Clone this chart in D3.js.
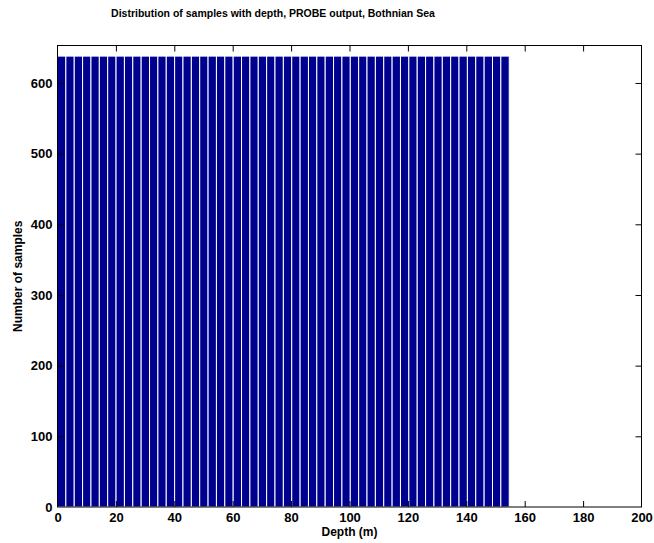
<!DOCTYPE html>
<html>
<head>
<meta charset="utf-8">
<script src="https://cdn.jsdelivr.net/npm/d3@7"></script>
<style>
  html, body { margin: 0; padding: 0; background: #fff; }
  svg { display: block; font-family: "Liberation Sans", Arial, Helvetica, sans-serif; }
</style>
</head>
<body>
<svg id="chart" width="654" height="543"></svg>
<script>
// Histogram of sample depths (PROBE output, Bothnian Sea)
const depthRange = [0, 154.7];      // metres covered by the histogram bins
const sampleCounts = [
  638, 638, 638, 638, 638, 638, 638, 638, 638, 638,
  638, 638, 638, 638, 638, 638, 638, 638, 638, 638,
  638, 638, 638, 638, 638, 638, 638, 638, 638, 638,
  638, 638, 638, 638, 638, 638, 638, 638, 638, 638,
  638, 638, 638, 638, 638, 638, 638, 638, 638, 638,
  638, 638, 638, 638
];
const xTicks = [0, 20, 40, 60, 80, 100, 120, 140, 160, 180, 200];
const yTicks = [0, 100, 200, 300, 400, 500, 600];
const xDomain = [0, 200];
const yDomain = [0, 653];

const titleText = "Distribution of samples with depth, PROBE output, Bothnian Sea";
const xLabelText = "Depth (m)";
const yLabelText = "Number of samples";

const svg = d3.select("#chart");
const plot = { left: 57.5, right: 641.5, top: 45.5, bottom: 507 };

const x = d3.scaleLinear().domain(xDomain).range([plot.left, plot.right]);
const y = d3.scaleLinear().domain(yDomain).range([plot.bottom, plot.top]);

// equal-width bins spanning the depth range, one per count
const binWidth = (depthRange[1] - depthRange[0]) / sampleCounts.length;
const bins = sampleCounts.map((c, i) => ({
  x0: depthRange[0] + i * binWidth,
  x1: depthRange[0] + (i + 1) * binWidth,
  count: c
}));

svg.append("g")
  .selectAll("rect")
  .data(bins)
  .join("rect")
  .attr("x", d => x(d.x0))
  .attr("width", d => x(d.x1) - x(d.x0))
  .attr("y", d => y(d.count))
  .attr("height", d => y(0) - y(d.count))
  .attr("fill", "#00008f")
  .attr("stroke", "#ffffff")
  .attr("stroke-width", 1);

// axes with inward ticks on all four sides
const tickLen = 6;
const fontSize = 13;

const xb = svg.append("g").attr("transform", `translate(0,${plot.bottom})`)
  .call(d3.axisBottom(x).tickValues(xTicks).tickSizeInner(-tickLen).tickSizeOuter(0).tickPadding(6));
const xt = svg.append("g").attr("transform", `translate(0,${plot.top})`)
  .call(d3.axisTop(x).tickValues(xTicks).tickSizeInner(-tickLen).tickSizeOuter(0).tickFormat(""));
const yl = svg.append("g").attr("transform", `translate(${plot.left},0)`)
  .call(d3.axisLeft(y).tickValues(yTicks).tickSizeInner(-tickLen).tickSizeOuter(0).tickPadding(5));
const yr = svg.append("g").attr("transform", `translate(${plot.right},0)`)
  .call(d3.axisRight(y).tickValues(yTicks).tickSizeInner(-tickLen).tickSizeOuter(0).tickFormat(""));

[xb, xt, yl, yr].forEach(g => {
  g.select(".domain").remove();
  g.selectAll(".tick line").attr("stroke", "#000").attr("stroke-width", 1);
  g.selectAll(".tick text")
    .attr("fill", "#000")
    .attr("font-size", fontSize)
    .attr("font-weight", "bold")
    .attr("font-family", "'Liberation Sans', Arial, sans-serif");
});
// hide tick marks that would sit on the frame corners
xb.selectAll(".tick line").filter(d => d === xDomain[0] || d === xDomain[1]).remove();
xt.selectAll(".tick line").filter(d => d === xDomain[0] || d === xDomain[1]).remove();
yl.selectAll(".tick line").filter(d => d === 0).remove();
yr.selectAll(".tick line").filter(d => d === 0).remove();

// frame
svg.append("rect")
  .attr("x", plot.left).attr("y", plot.top)
  .attr("width", plot.right - plot.left)
  .attr("height", plot.bottom - plot.top)
  .attr("fill", "none").attr("stroke", "#000").attr("stroke-width", 1);

// title and axis labels
svg.append("text")
  .attr("x", 273).attr("y", 17)
  .attr("text-anchor", "middle")
  .attr("font-size", 10.5).attr("font-weight", "bold")
  .text(titleText);

svg.append("text")
  .attr("x", (plot.left + plot.right) / 2).attr("y", 536)
  .attr("text-anchor", "middle")
  .attr("font-size", 12).attr("font-weight", "bold")
  .text(xLabelText);

svg.append("text")
  .attr("transform", `translate(22,${(plot.top + plot.bottom) / 2}) rotate(-90)`)
  .attr("text-anchor", "middle")
  .attr("font-size", 12).attr("font-weight", "bold")
  .text(yLabelText);
</script>
</body>
</html>
